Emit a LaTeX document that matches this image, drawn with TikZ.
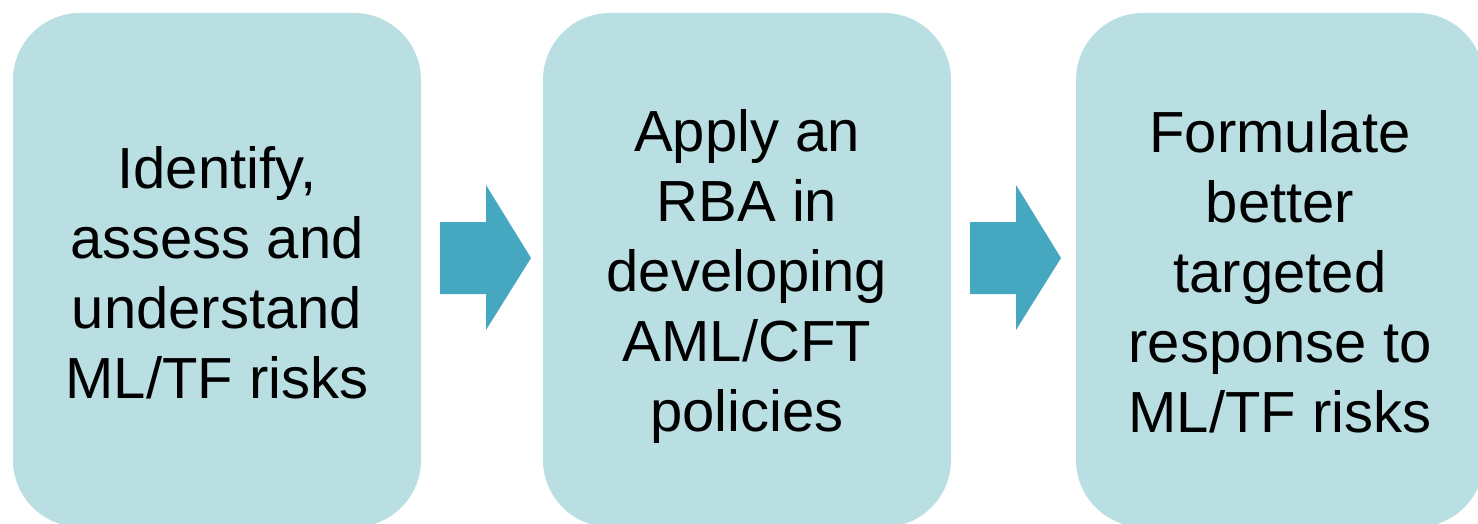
\documentclass[tikz,border=0pt]{standalone}
\usepackage{fontspec}
\setmainfont{Liberation Sans}
\definecolor{boxfill}{RGB}{186,223,227}
\definecolor{arrowfill}{RGB}{70,168,192}
\tikzset{
  stagebox/.style={fill=boxfill, draw=none, rounded corners=67pt},
  stagetext/.style={align=center, font=\fontsize{58}{70}\selectfont, text=black},
  blockarrow/.style={fill=arrowfill, draw=none}
}
\begin{document}
\begin{tikzpicture}[x=1pt,y=-1pt]
\useasboundingbox (0,0) rectangle (1478,524);
\begin{scope}
\clip (0,0) rectangle (1478,524);
\fill[stagebox] (13,13) rectangle (421,527);
\fill[stagebox] (543,13) rectangle (951,527);
\fill[stagebox] (1076,13) rectangle (1484,527);
\end{scope}
\node[stagetext] (b1) at (217,273) {Identify,\\assess and\\understand\\ML/TF risks};
\node[stagetext] (b2) at (747,277) {Apply an\\RBA in\\developing\\AML/CFT\\policies};
\node[stagetext] (b3) at (1280,272) {Formulate\\better\\targeted\\response to\\ML/TF risks};
\fill[blockarrow] (440,222) -- (486,222) -- (486,185) -- (531,258) -- (486,330) -- (486,294) -- (440,294) -- cycle;
\fill[blockarrow] (970,222) -- (1016,222) -- (1016,185) -- (1061,258) -- (1016,330) -- (1016,294) -- (970,294) -- cycle;
\end{tikzpicture}
\end{document}
